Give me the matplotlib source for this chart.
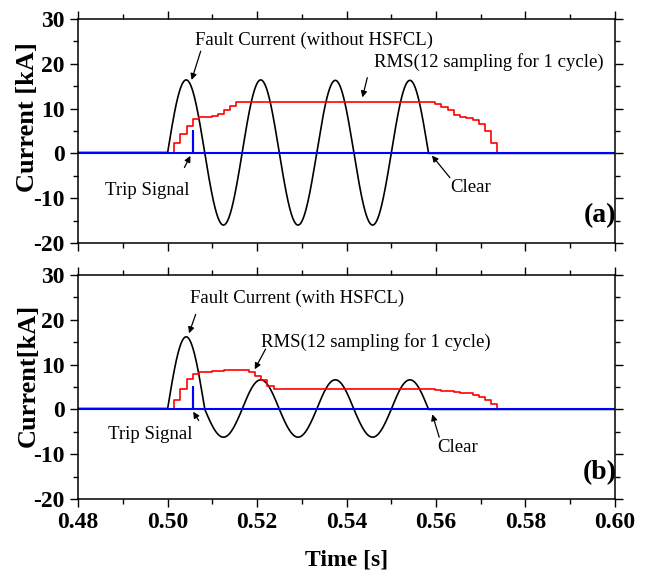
import matplotlib
matplotlib.use("Agg")
import matplotlib.pyplot as plt
import numpy as np
from matplotlib.ticker import MultipleLocator, FormatStrFormatter

plt.rcParams["font.family"] = ["Liberation Serif", "DejaVu Serif"]
plt.rcParams["axes.unicode_minus"] = False

# time window and fault timing [s]
T_MIN, T_MAX = 0.48, 0.60
FAULT_START = 0.50
FREQ = 60.0
PREFAULT_LEVEL = 0.2

# peak value of each half cycle of the fault current [kA]
HALF_PEAKS_A = [16.4, -16.0, 16.4, -16.0, 16.3, -16.0, 16.3]
HALF_PEAKS_B = [16.2, -6.2, 6.6, -6.2, 6.6, -6.2, 6.6]

# RMS relay output, 12 samples per cycle [kA]
RMS_START = 0.5015
RMS_DT = 1.0 / 720
RMS_RISE_A = [2.3, 4.4, 6.2, 7.7, 8.1, 8.2, 8.4, 8.9, 9.7, 10.6]
RMS_FLAT_A, RMS_FLAT_N_A = 11.45, 32
RMS_FALL_A = [11.1, 10.4, 9.6, 8.6, 8.1, 7.9, 7.5, 6.6, 5.0, 2.4]
RMS_RISE_B = [2.1, 4.5, 6.8, 7.9, 8.3, 8.4, 8.5, 8.6, 8.7, 8.8, 8.8, 8.9,
              8.3, 7.5, 6.6, 5.2]
RMS_FLAT_B, RMS_FLAT_N_B = 4.55, 26
RMS_FALL_B = [4.4, 4.2, 4.0, 3.8, 3.7, 3.6, 3.3, 2.8, 2.2, 1.2]

# trip signal
TRIP_TIME = 0.5057
TRIP_LEVEL = 5.0


def fault_current(t, half_peaks):
    i = np.full_like(t, PREFAULT_LEVEL)
    phase = np.sin(2 * np.pi * FREQ * (t - FAULT_START))
    half = 1.0 / (2 * FREQ)
    i[t >= FAULT_START] = 0.0
    for k, peak in enumerate(half_peaks):
        m = (t >= FAULT_START + k * half) & (t < FAULT_START + (k + 1) * half)
        i[m] = peak * np.abs(phase[m])
    return i


def rms_steps(rise, flat, flat_n, fall):
    vals = list(rise) + [flat] * flat_n + list(fall)
    n = len(vals)
    times = [T_MIN] + [RMS_START + k * RMS_DT for k in range(n)] + [RMS_START + n * RMS_DT, T_MAX]
    return np.array(times), np.array([0.0] + vals + [0.0, 0.0])


def draw_panel(ax, half_peaks, rms, texts, arrows, tag):
    t = np.linspace(T_MIN, T_MAX, 4000)
    ax.plot(t, fault_current(t, half_peaks), color="black", lw=1.2)
    rt, rv = rms_steps(*rms)
    ax.step(rt, rv, where="post", color="red", lw=1.2)
    trip_t = [T_MIN, TRIP_TIME, TRIP_TIME, TRIP_TIME, T_MAX]
    trip_v = [0, 0, TRIP_LEVEL, 0, 0]
    ax.plot(trip_t, trip_v, color="blue", lw=1.5)

    for label, x, y in texts:
        ax.text(x, y, label, fontsize=13.5, ha="center", va="center")
    for tip, tail in arrows:
        ax.annotate("", xy=tip, xytext=tail,
                    arrowprops=dict(arrowstyle="-|>", color="black", lw=0.9,
                                    mutation_scale=9))
    ax.text(0.5967, -14.0, tag, fontsize=20, fontweight="bold",
            ha="center", va="center")

    ax.set_xlim(T_MIN, T_MAX)
    ax.set_ylim(-20, 30)
    ax.xaxis.set_major_locator(MultipleLocator(0.02))
    ax.xaxis.set_minor_locator(MultipleLocator(0.01))
    ax.yaxis.set_major_locator(MultipleLocator(10))
    ax.yaxis.set_minor_locator(MultipleLocator(5))
    ax.xaxis.set_major_formatter(FormatStrFormatter("%.2f"))
    ax.tick_params(which="both", direction="out", top=True, right=True, width=1.0)
    ax.tick_params(which="major", length=6, labelsize=17)
    ax.tick_params(which="minor", length=3.5)
    for lab in ax.get_xticklabels() + ax.get_yticklabels():
        lab.set_fontweight("bold")
    for s in ax.spines.values():
        s.set_linewidth(1.1)


fig = plt.figure(figsize=(6.49, 5.77), dpi=100)
ax1 = fig.add_axes([0.1202, 0.5789, 0.8274, 0.3882])
ax2 = fig.add_axes([0.1202, 0.1352, 0.8274, 0.3882])

draw_panel(
    ax1, HALF_PEAKS_A, (RMS_RISE_A, RMS_FLAT_A, RMS_FLAT_N_A, RMS_FALL_A),
    [("Fault Current (without HSFCL)", 0.5327, 25.3),
     ("RMS(12 sampling for 1 cycle)", 0.5718, 20.4),
     ("Trip Signal", 0.4954, -8.3),
     ("Clear", 0.5678, -7.7)],
    [((0.5052, 15.8), (0.5076, 23.4)),
     ((0.5434, 11.9), (0.5448, 17.5)),
     ((0.5054, 0.0), (0.5035, -3.7)),
     ((0.5587, 0.0), (0.5635, -5.9))],
    "(a)",
)
draw_panel(
    ax2, HALF_PEAKS_B, (RMS_RISE_B, RMS_FLAT_B, RMS_FLAT_N_B, RMS_FALL_B),
    [("Fault Current (with HSFCL)", 0.5289, 24.9),
     ("RMS(12 sampling for 1 cycle)", 0.5466, 15.1),
     ("Trip Signal", 0.4961, -5.7),
     ("Clear", 0.5649, -8.6)],
    [((0.5046, 16.4), (0.5065, 21.8)),
     ((0.5192, 8.4), (0.5222, 14.0)),
     ((0.5054, 0.0), (0.5073, -3.0)),
     ((0.5590, -0.5), (0.5609, -6.8))],
    "(b)",
)

ax1.tick_params(labelbottom=False)
ax1.set_ylabel("Current [kA]", fontsize=19, fontweight="bold")
ax2.set_ylabel("Current[kA]", fontsize=19, fontweight="bold")
ax1.yaxis.set_label_coords(-0.072, 0.56)
ax2.yaxis.set_label_coords(-0.072, 0.55)
ax2.set_xlabel("Time [s]", fontsize=17, fontweight="bold", labelpad=12)

fig.savefig("out.png", dpi=100)
